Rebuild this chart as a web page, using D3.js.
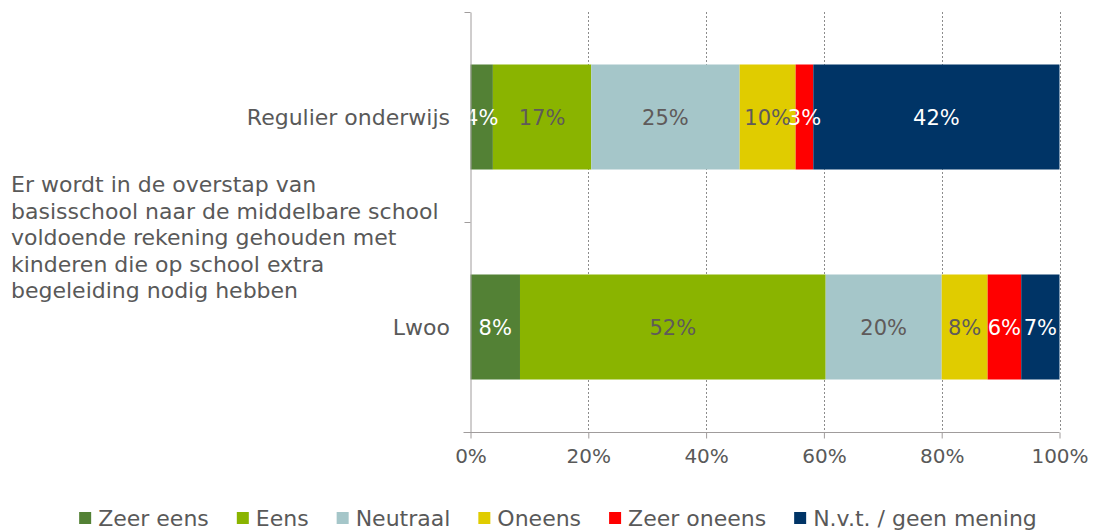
<!DOCTYPE html>
<html>
<head>
<meta charset="utf-8">
<script src="https://cdn.jsdelivr.net/npm/d3@7"></script>
<style>
  body { margin: 0; background: #fff; }
  svg { display: block; font-family: "DejaVu Sans", Verdana, sans-serif; }
</style>
</head>
<body>
<svg id="chart" width="1097" height="532"></svg>
<script>
// categorieen (van boven naar beneden)
const categories = ['Regulier onderwijs', 'Lwoo'];

// antwoordcategorieen
const series = ['Zeer eens', 'Eens', 'Neutraal', 'Oneens', 'Zeer oneens', 'N.v.t. / geen mening'];

// percentages per categorie, volgorde = series
const regulierValues = [3.8, 16.7, 25.2, 9.5, 3.0, 41.8];
const lwooValues = [8.4, 51.9, 19.7, 7.8, 5.7, 6.5];

const xTicks = [0, 20, 40, 60, 80, 100];

const statement = [
  'Er wordt in de overstap van',
  'basisschool naar de middelbare school',
  'voldoende rekening gehouden met',
  'kinderen die op school extra',
  'begeleiding nodig hebben'
];

const colors = ['#538135', '#8ab400', '#a5c6c9', '#e0cc00', '#ff0000', '#003466'];
const labelColors = ['#ffffff', '#5f5a5a', '#5f5a5a', '#5f5a5a', '#ffffff', '#ffffff'];

const textColor = '#595959';
const axisColor = '#a09c9c';

const svg = d3.select('#chart');

const plotLeft = 470.5, plotRight = 1059.5, plotTop = 12, plotBottom = 432;

const x = d3.scaleLinear().domain([0, 100]).range([plotLeft, plotRight]);
const y = d3.scaleBand().domain(categories).range([plotTop, plotBottom])
  .paddingInner(0.5).paddingOuter(0.25);
const yEdge = d3.scaleLinear().domain([0, categories.length]).range([plotTop, plotBottom]);

// stapel per categorie
const rows = [regulierValues, lwooValues].map(function(vals, i) {
  let acc = 0;
  return vals.map(function(v, j) {
    const seg = { cat: categories[i], idx: j, v0: acc, v1: acc + v, v: v };
    acc += v;
    return seg;
  });
});

// rasterlijnen (gestippeld)
svg.append('g')
  .selectAll('line')
  .data(xTicks.filter(d => d > 0))
  .join('line')
  .attr('x1', d => Math.round(x(d)) + 0.5)
  .attr('x2', d => Math.round(x(d)) + 0.5)
  .attr('y1', plotTop)
  .attr('y2', plotBottom)
  .style('stroke', '#8c8c8c')
  .style('stroke-width', 1)
  .style('stroke-dasharray', '2,2');

// balken
const bars = svg.append('g');
rows.forEach(function(row) {
  bars.append('g')
    .selectAll('rect')
    .data(row)
    .join('rect')
    .attr('x', d => x(d.v0))
    .attr('y', d => y(d.cat))
    .attr('width', d => x(d.v1) - x(d.v0))
    .attr('height', y.bandwidth())
    .style('fill', d => colors[d.idx]);
});

// labels in de balken
rows.forEach(function(row) {
  bars.append('g')
    .selectAll('text')
    .data(row)
    .join('text')
    .attr('x', d => (x(d.v0) + x(d.v1)) / 2)
    .attr('y', d => y(d.cat) + y.bandwidth() / 2)
    .attr('dy', '.38em')
    .attr('font-size', '21px')
    .style('text-anchor', 'middle')
    .style('fill', d => labelColors[d.idx])
    .text(d => Math.round(d.v) + '%');
});

// x-as
const xAxis = svg.append('g')
  .attr('transform', 'translate(0,' + (plotBottom + 0.5) + ')')
  .call(d3.axisBottom(x).tickValues(xTicks).tickFormat(d => d + '%').tickSizeInner(6).tickSizeOuter(0).tickPadding(10));
xAxis.select('.domain').attr('d', 'M' + (plotLeft - 7) + ',0H' + plotRight).style('stroke', axisColor);
xAxis.selectAll('.tick line').style('stroke', axisColor);
xAxis.selectAll('.tick text')
  .attr('font-size', '20px')
  .style('fill', textColor);
xAxis.attr('font-family', null).attr('font-size', null);

// y-as (streepjes op de grenzen)
const yAxis = svg.append('g')
  .attr('transform', 'translate(' + plotLeft + ',0)')
  .call(d3.axisLeft(yEdge).tickValues(d3.range(categories.length + 1)).tickFormat('').tickSizeInner(6).tickSizeOuter(0));
yAxis.select('.domain').style('stroke', axisColor);
yAxis.selectAll('.tick line').style('stroke', axisColor);

// categorie labels
svg.append('g')
  .selectAll('text')
  .data(categories)
  .join('text')
  .attr('x', 450)
  .attr('y', d => y(d) + y.bandwidth() / 2)
  .attr('dy', '.36em')
  .attr('font-size', '22px')
  .style('text-anchor', 'end')
  .style('fill', textColor)
  .text(d => d);

// stelling (meerdere regels)
svg.append('text')
  .attr('x', 11)
  .attr('y', 192)
  .attr('font-size', '22px')
  .style('fill', textColor)
  .selectAll('tspan')
  .data(statement)
  .join('tspan')
  .attr('x', 11)
  .attr('dy', (d, i) => i === 0 ? 0 : 26.5)
  .text(d => d);

// legenda
const legend = svg.append('g');
const items = legend.selectAll('g')
  .data(series)
  .join('g');
items.append('rect')
  .attr('width', 12)
  .attr('height', 12)
  .attr('y', 512)
  .style('fill', (d, i) => colors[i]);
items.append('text')
  .attr('x', 19)
  .attr('y', 518)
  .attr('dy', '.36em')
  .attr('font-size', '22px')
  .style('fill', textColor)
  .text(d => d);

const gap = 28;
const widths = [];
items.each(function() {
  const w = 19 + d3.select(this).select('text').node().getComputedTextLength();
  widths.push(w);
});
const total = d3.sum(widths) + gap * (widths.length - 1);
let start = 558 - total / 2;
items.attr('transform', function(d, i) {
  const t = 'translate(' + start + ',0)';
  start += widths[i] + gap;
  return t;
});
</script>
</body>
</html>
